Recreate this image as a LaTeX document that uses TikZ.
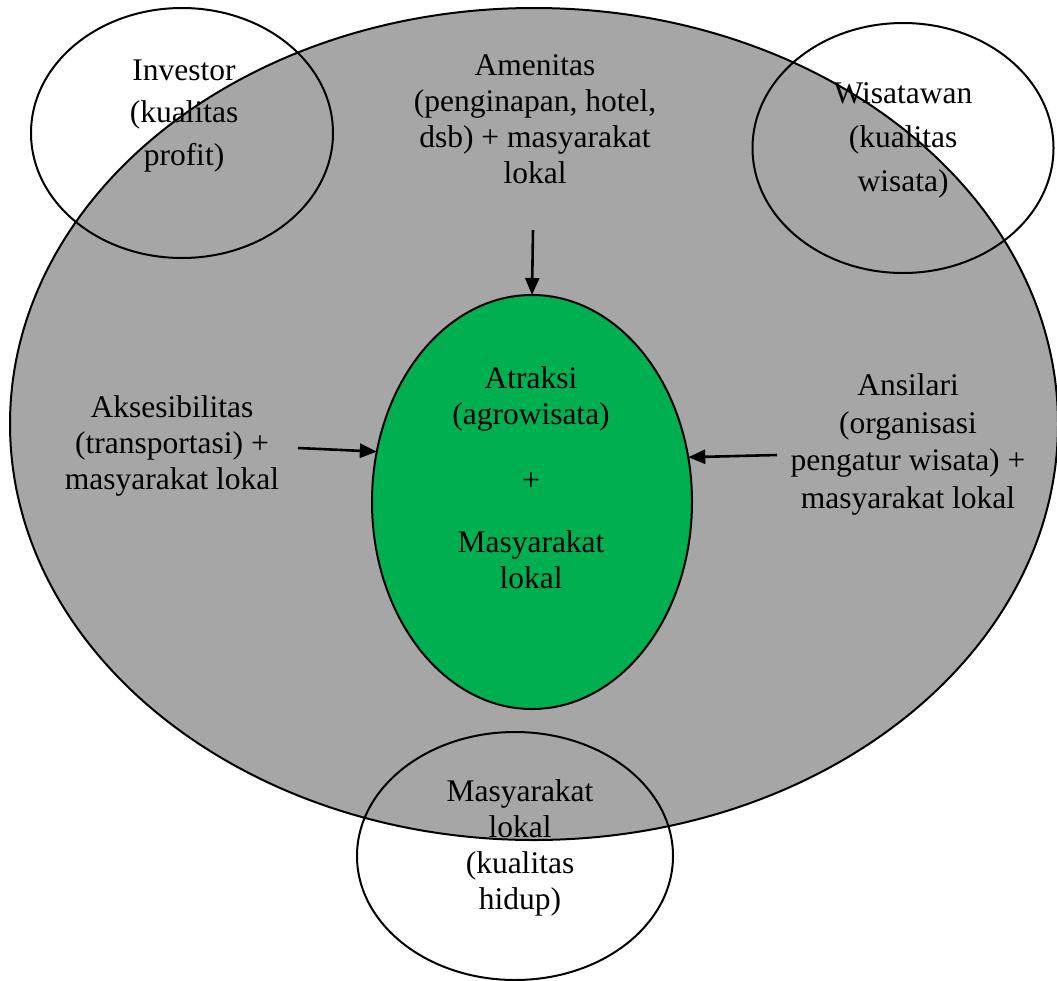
\documentclass[tikz,border=0pt]{standalone}
\usepackage{fontspec}
\setmainfont{Liberation Serif}
\usetikzlibrary{shapes.geometric,arrows.meta}
\definecolor{bggray}{HTML}{A6A6A6}
\definecolor{agreen}{HTML}{00B050}
\tikzset{
  oval/.style={ellipse, draw=black, line width=2pt, inner sep=0pt, outer sep=0pt},
  lbl/.style={align=center, font=\fontsize{31.5}{36}\selectfont, inner sep=0pt},
  arr/.style={line width=2.6pt, -{Triangle[length=17pt,width=14pt]}},
}
\begin{document}
\begin{tikzpicture}[x=1pt,y=-1pt]
\useasboundingbox (0,0) rectangle (1057,980);
\node[oval, fill=bggray, minimum width=1048pt, minimum height=832pt] (big) at (534,424) {};
\node[oval, minimum width=302pt, minimum height=250pt] (inv) at (182,133) {};
\node[oval, minimum width=301pt, minimum height=250pt] (wis) at (903,148) {};
\node[oval, minimum width=316pt, minimum height=248pt] (mas) at (515,856) {};
\node[oval, fill=agreen, minimum width=320pt, minimum height=414pt] (green) at (532,502) {};

\node[lbl, font=\fontsize{31.5}{42.5}\selectfont] (tinv) at (184,116) {Investor\\(kualitas\\profit)};
\node[lbl, font=\fontsize{31.5}{44}\selectfont] (twis) at (903,140) {Wisatawan\\(kualitas\\wisata)};
\node[lbl] (tmas) at (520,848) {Masyarakat\\lokal\\(kualitas\\hidup)};
\node[lbl] (tamen) at (535,119) {Amenitas\\(penginapan, hotel,\\dsb) + masyarakat\\lokal};
\node[lbl] (takses) at (172,446) {Aksesibilitas\\(transportasi) +\\masyarakat lokal};
\node[lbl, font=\fontsize{31.5}{37.5}\selectfont] (tansil) at (908,444.5) {Ansilari\\(organisasi\\pengatur wisata) +\\masyarakat lokal};
\node[lbl] (tatr) at (531,477.5) {Atraksi\\(agrowisata)\\[30pt]+\\[26pt]Masyarakat\\lokal};

\coordinate (amS) at (533,230);
\coordinate (akS) at (298,448);
\coordinate (anS) at (777,455);
\draw[arr] (amS) -- (green.north);
\draw[arr] (akS) -- (green.162);
\draw[arr] (anS) -- (green.16);
\end{tikzpicture}
\end{document}
